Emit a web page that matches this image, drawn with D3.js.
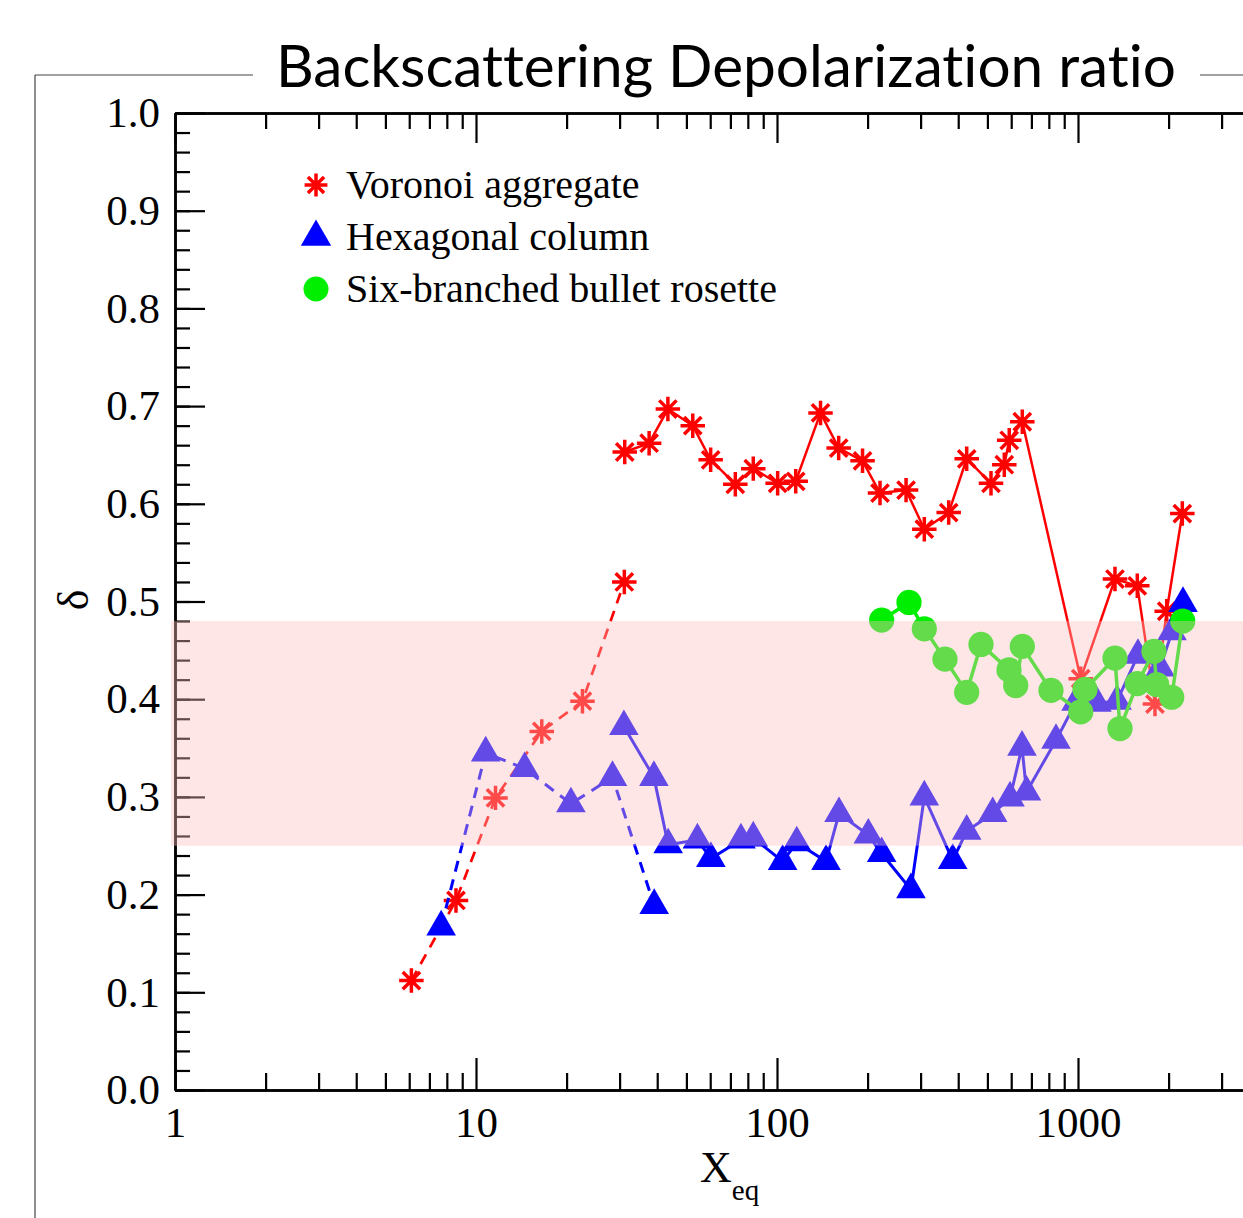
<!DOCTYPE html>
<html>
<head>
<meta charset="utf-8">
<script src="https://cdn.jsdelivr.net/npm/d3@7"></script>
<style>
  body { margin: 0; background: #fff; }
  svg { display: block; }
</style>
</head>
<body>
<div id="chart"></div>
<script>
// ---- data ----
const chartTitle = "Backscattering Depolarization ratio";
const seriesNames = ["Voronoi aggregate", "Hexagonal column", "Six-branched bullet rosette"];
const xMajorTicks = [1, 10, 100, 1000];
const xTickLabels = ["1", "10", "100", "1000"];
const yMajorTicks = [0, 0.1, 0.2, 0.3, 0.4, 0.5, 0.6, 0.7, 0.8, 0.9, 1.0];
const yTickLabels = ["0.0", "0.1", "0.2", "0.3", "0.4", "0.5", "0.6", "0.7", "0.8", "0.9", "1.0"];
const bandRange = [0.25, 0.48];

// Voronoi aggregate (dashed part, then solid part)
const voronoiDashX = [6.10, 8.58, 11.61, 16.54, 22.58, 31.1];
const voronoiDashY = [0.112, 0.194, 0.299, 0.367, 0.398, 0.520];
const voronoiX = [31.2, 37.6, 43.4, 52.5, 60.2, 72.7, 83.4, 100.5, 115.4, 139.5, 160.3, 192.4, 219.9, 268.4,
                  308.6, 371.9, 426.8, 514, 569, 591, 653, 1021, 1327, 1574, 1802, 1971, 2221];
const voronoiY = [0.653, 0.662, 0.697, 0.680, 0.645, 0.620, 0.636, 0.621, 0.623, 0.693, 0.657, 0.644, 0.611, 0.614,
                  0.574, 0.591, 0.646, 0.621, 0.640, 0.665, 0.684, 0.421, 0.523, 0.516, 0.395, 0.490, 0.590];

// Hexagonal column
const hexDashX = [7.66, 10.77, 14.50, 20.67, 28.41, 39.08];
const hexDashY = [0.167, 0.345, 0.329, 0.293, 0.320, 0.189];
const hexX = [31.0, 39.0, 43.5, 54.4, 60.3, 75.9, 83.4, 104.4, 116.3, 145.5, 160.7, 201.1, 222.7, 278.6, 308.6,
              383.4, 426.8, 520.7, 594.5, 651.6, 674.5, 845.2, 984.9, 1156, 1348, 1582, 1873, 2053, 2233];
const hexY = [0.372, 0.320, 0.251, 0.256, 0.237, 0.256, 0.258, 0.234, 0.253, 0.234, 0.283, 0.261, 0.242, 0.205, 0.300,
              0.235, 0.265, 0.283, 0.299, 0.351, 0.305, 0.358, 0.397, 0.396, 0.398, 0.445, 0.432, 0.469, 0.498];

// Six-branched bullet rosette
const rosetteX = [222.7, 274.5, 308.6, 361.5, 426.8, 476.1, 589.9, 620.9, 653.1, 813.3, 1021, 1055, 1327, 1379,
                  1574, 1788, 1825, 2048, 2228];
const rosetteY = [0.481, 0.499, 0.472, 0.441, 0.407, 0.456, 0.430, 0.414, 0.454, 0.409, 0.387, 0.410, 0.442, 0.370,
                  0.416, 0.449, 0.415, 0.402, 0.480];

// ---- layout ----
const width = 1243, height = 1218;
const plotLeft = 175, plotTop = 113, plotBottom = 1090, decade = 301;

const svg = d3.select("#chart").append("svg")
    .attr("width", width)
    .attr("height", height);

const x = d3.scaleLog().domain([1, 10000]).range([plotLeft, plotLeft + 4 * decade]);
const y = d3.scaleLinear().domain([0, 1]).range([plotBottom, plotTop]);

const xMinor = [];
[1, 10, 100, 1000].forEach(d => { for (let k = 2; k <= 9; k++) xMinor.push(d * k); });
const yMinor = d3.range(0, 51).map(i => i * 0.02);

const serif = "'Liberation Serif', 'Times New Roman', serif";

// axes
const axisG = svg.append("g").attr("class", "axes");

function styleAxis(g) {
    g.selectAll("path.domain").attr("stroke", "#000").attr("stroke-width", 2.5);
    g.selectAll(".tick line").attr("stroke", "#000").attr("stroke-width", 2.2);
    g.selectAll("text").attr("font-family", serif).attr("font-size", 43).attr("fill", "#000");
}

axisG.append("g")
    .attr("transform", `translate(0,${plotBottom})`)
    .call(d3.axisBottom(x).tickValues(xMinor).tickSizeInner(-17).tickSizeOuter(0).tickFormat(""))
    .call(styleAxis);
axisG.append("g")
    .attr("transform", `translate(0,${plotBottom})`)
    .call(d3.axisBottom(x).tickValues(xMajorTicks).tickSizeInner(-32).tickSizeOuter(0).tickPadding(16)
        .tickFormat((d, i) => xTickLabels[i]))
    .call(styleAxis);

axisG.append("g")
    .attr("transform", `translate(0,${plotTop})`)
    .call(d3.axisTop(x).tickValues(xMinor).tickSizeInner(-16).tickSizeOuter(0).tickFormat(""))
    .call(styleAxis);
axisG.append("g")
    .attr("transform", `translate(0,${plotTop})`)
    .call(d3.axisTop(x).tickValues(xMajorTicks).tickSizeInner(-30).tickSizeOuter(0).tickFormat(""))
    .call(styleAxis);

axisG.append("g")
    .attr("transform", `translate(${plotLeft},0)`)
    .call(d3.axisLeft(y).tickValues(yMinor).tickSizeInner(-15).tickSizeOuter(0).tickFormat(""))
    .call(styleAxis);
axisG.append("g")
    .attr("transform", `translate(${plotLeft},0)`)
    .call(d3.axisLeft(y).tickValues(yMajorTicks).tickSizeInner(-30).tickSizeOuter(0).tickPadding(15)
        .tickFormat((d, i) => yTickLabels[i]))
    .call(styleAxis);

// axis titles
svg.append("text")
    .attr("transform", "translate(88,600) rotate(-90)")
    .attr("text-anchor", "middle")
    .attr("font-family", serif)
    .attr("font-size", 44)
    .text("δ");

const xLab = svg.append("text")
    .attr("x", 700)
    .attr("y", 1182)
    .attr("font-family", serif)
    .attr("font-size", 44);
xLab.append("tspan").text("X");
xLab.append("tspan").attr("font-size", 29).attr("dy", 18).text("eq");

// markers
const asterisk = {
    draw(ctx, size) {
        const r = Math.sqrt(size) / 2;
        for (let i = 0; i < 4; i++) {
            const a = i * Math.PI / 4;
            ctx.moveTo(r * Math.cos(a), r * Math.sin(a));
            ctx.lineTo(-r * Math.cos(a), -r * Math.sin(a));
        }
    }
};

const line = d3.line().x(d => x(d[0])).y(d => y(d[1]));
const zip = (xs, ys) => xs.map((v, i) => [v, ys[i]]);

function drawSeries(pts, color, dashed, lw, symbolType, symbolSize, filled) {
    const g = svg.append("g");
    g.append("path")
        .datum(pts)
        .attr("d", line)
        .attr("fill", "none")
        .attr("stroke", color)
        .attr("stroke-width", lw)
        .attr("stroke-dasharray", dashed ? "11,8" : null);
    g.selectAll("path.mark")
        .data(pts)
        .join("path")
        .attr("class", "mark")
        .attr("transform", d => `translate(${x(d[0])},${y(d[1])})`)
        .attr("d", d3.symbol().type(symbolType).size(symbolSize))
        .attr("fill", filled ? color : "none")
        .attr("stroke", color)
        .attr("stroke-width", filled ? 0 : 3.5);
}

const red = "#ff0000", blue = "#0000ff", green = "#00ee00";

drawSeries(zip(voronoiDashX, voronoiDashY), red, true, 2.7, asterisk, 600, false);
drawSeries(zip(voronoiX, voronoiY), red, false, 2.5, asterisk, 600, false);
drawSeries(zip(hexDashX, hexDashY), blue, true, 3, d3.symbolTriangle, 380, true);
drawSeries(zip(hexX, hexY), blue, false, 3, d3.symbolTriangle, 380, true);
drawSeries(zip(rosetteX, rosetteY), green, false, 3.5, d3.symbolCircle, 500, true);

// translucent pink band laid over the data
svg.append("rect")
    .attr("x", plotLeft - 4)
    .attr("y", y(bandRange[1]))
    .attr("width", width - plotLeft + 4)
    .attr("height", y(bandRange[0]) - y(bandRange[1]))
    .attr("fill", "rgb(255,191,191)")
    .attr("fill-opacity", 0.39);

// legend
const legendTypes = [asterisk, d3.symbolTriangle, d3.symbolCircle];
const legendColors = [red, blue, green];
const legend = svg.append("g");
seriesNames.forEach((name, i) => {
    const ly = 185 + i * 52;
    legend.append("path")
        .attr("transform", `translate(316,${ly})`)
        .attr("d", d3.symbol().type(legendTypes[i]).size(i === 0 ? 520 : (i === 1 ? 400 : 490)))
        .attr("fill", i === 0 ? "none" : legendColors[i])
        .attr("stroke", legendColors[i])
        .attr("stroke-width", i === 0 ? 3.5 : 0);
    legend.append("text")
        .attr("x", 346)
        .attr("y", ly + 13)
        .attr("font-family", serif)
        .attr("font-size", 40)
        .text(name);
});

// outer frame with title in the gap
const frame = svg.append("g").attr("stroke", "#444").attr("stroke-width", 1.2);
frame.append("line").attr("x1", 35).attr("x2", 35).attr("y1", 75).attr("y2", height);
frame.append("line").attr("x1", 35).attr("x2", 253).attr("y1", 75).attr("y2", 75);
frame.append("line").attr("x1", 1200).attr("x2", width).attr("y1", 75).attr("y2", 75);

const title = svg.append("text")
    .attr("x", 276)
    .attr("y", 87)
    .attr("font-family", "Lato, 'Open Sans', sans-serif")
    .attr("font-size", 60)
    .style("font-variant-ligatures", "none")
    .style("font-feature-settings", "'liga' 0, 'clig' 0")
    .text(chartTitle);
const tw = title.node().getComputedTextLength();
title.attr("font-size", 60 * 900 / tw);
</script>
</body>
</html>
